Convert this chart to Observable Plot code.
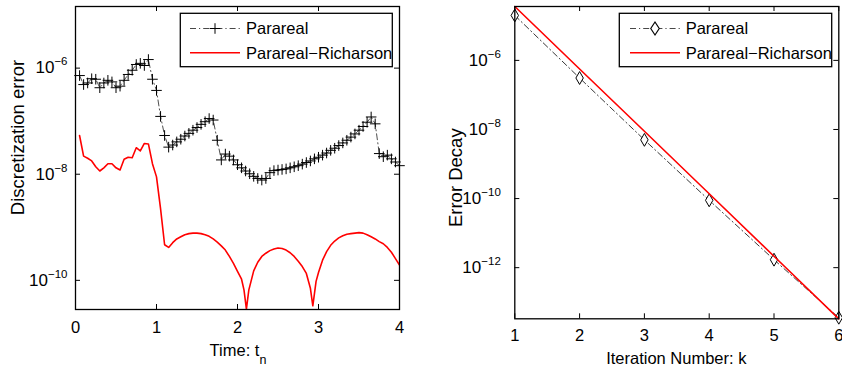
<!DOCTYPE html>
<html><head><meta charset="utf-8">
<script src="https://cdn.jsdelivr.net/npm/d3@7"></script>
<script src="https://cdn.jsdelivr.net/npm/@observablehq/plot@0.6"></script>
<style>
html,body{margin:0;padding:0;background:#fff;}
#wrap{position:relative;width:842px;height:372px;overflow:hidden;background:#fff;}
#left,#right{position:absolute;top:0;}
#left{left:0;} #right{left:420px;}
svg text{font-family:"Liberation Sans",Arial,Helvetica,sans-serif;}
</style></head><body>
<div id="wrap"><div id="left"></div><div id="right"></div></div>
<script>
// ---------- Left panel data: discretization error vs time ----------
const parT = [0.05,0.10,0.15,0.20,0.25,0.30,0.35,0.40,0.45,0.50,0.55,0.60,0.65,0.70,0.75,0.80,0.85,0.90,0.95,1.00,
  1.05,1.10,1.15,1.20,1.25,1.30,1.35,1.40,1.45,1.50,1.55,1.60,1.65,1.70,1.75,1.80,1.85,1.90,1.95,2.00,
  2.05,2.10,2.15,2.20,2.25,2.30,2.35,2.40,2.45,2.50,2.55,2.60,2.65,2.70,2.75,2.80,2.85,2.90,2.95,3.00,
  3.05,3.10,3.15,3.20,3.25,3.30,3.35,3.40,3.45,3.50,3.55,3.60,3.65,3.70,3.75,3.80,3.85,3.90,3.95,4.00];
const parErr = [7.24e-7,4.90e-7,5.25e-7,6.31e-7,6.17e-7,4.27e-7,5.25e-7,5.89e-7,5.50e-7,4.27e-7,
  4.57e-7,5.89e-7,7.59e-7,9.12e-7,1.17e-6,1.23e-6,1.12e-6,1.45e-6,6.17e-7,3.80e-7,
  1.23e-7,5.37e-8,3.24e-8,3.55e-8,4.07e-8,4.57e-8,5.25e-8,5.89e-8,6.76e-8,7.59e-8,
  8.71e-8,9.77e-8,1.12e-7,1.05e-7,4.37e-8,1.86e-8,2.40e-8,2.19e-8,1.86e-8,1.51e-8,
  1.32e-8,1.15e-8,1.02e-8,9.12e-9,8.32e-9,7.76e-9,8.32e-9,1.07e-8,1.17e-8,1.20e-8,
  1.23e-8,1.26e-8,1.32e-8,1.38e-8,1.45e-8,1.55e-8,1.66e-8,1.78e-8,1.95e-8,2.09e-8,
  2.29e-8,2.51e-8,2.82e-8,3.09e-8,3.47e-8,3.89e-8,4.37e-8,5.01e-8,5.75e-8,6.76e-8,
  7.94e-8,9.55e-8,1.20e-7,8.91e-8,2.45e-8,2.14e-8,2.29e-8,1.95e-8,1.70e-8,1.45e-8];
const richT = [0.05,0.10,0.15,0.20,0.25,0.30,0.35,0.40,0.45,0.50,0.55,0.60,0.65,0.70,0.75,0.80,0.85,0.90,0.95,
  1.00,1.05,1.10,1.15,1.20,1.25,1.30,1.35,1.40,1.45,1.50,1.55,1.60,1.65,1.70,1.75,1.80,1.85,1.90,1.95,2.00,2.05,
  2.08,2.11,2.14,
  2.20,2.25,2.30,2.35,2.40,2.45,2.50,2.55,2.60,2.65,2.70,2.75,2.80,2.85,2.90,
  2.93,2.97,
  3.00,3.05,3.10,3.15,3.20,3.25,3.30,3.35,3.40,3.45,3.50,3.55,3.60,3.65,3.70,3.75,3.80,3.85,3.90,3.95,4.00];
const richErr = [5.37e-8,2.19e-8,2.00e-8,1.78e-8,1.38e-8,1.15e-8,1.32e-8,1.58e-8,1.58e-8,1.32e-8,
  1.20e-8,1.91e-8,2.09e-8,2.04e-8,3.16e-8,2.75e-8,3.80e-8,3.72e-8,1.58e-8,
  8.91e-9,2.24e-9,4.68e-10,4.17e-10,5.13e-10,6.03e-10,6.61e-10,7.24e-10,7.59e-10,7.76e-10,7.76e-10,
  7.59e-10,7.24e-10,6.76e-10,6.03e-10,5.25e-10,4.47e-10,3.72e-10,2.82e-10,2.09e-10,1.48e-10,1.05e-10,
  6.61e-11,2.88e-11,6.61e-11,
  1.51e-10,2.19e-10,2.82e-10,3.24e-10,3.63e-10,3.89e-10,4.07e-10,3.98e-10,3.72e-10,3.31e-10,2.82e-10,
  2.29e-10,1.82e-10,1.35e-10,7.08e-11,
  3.31e-11,9.55e-11,
  1.41e-10,2.40e-10,3.47e-10,4.57e-10,5.50e-10,6.31e-10,6.92e-10,7.41e-10,7.59e-10,7.76e-10,7.94e-10,
  7.76e-10,7.24e-10,6.61e-10,6.03e-10,5.37e-10,4.90e-10,4.17e-10,3.39e-10,2.57e-10,1.95e-10];
const leftXTicks = [0, 1, 2, 3, 4];
const leftYTicks = [1e-6, 1e-8, 1e-10];

// ---------- Right panel data: error decay vs iteration ----------
const iterK = [1, 2, 3, 4, 5, 6];
const parDecay = [2.00e-5, 3.09e-7, 5.01e-9, 8.91e-11, 1.70e-12, 3.55e-14];
const richDecay = [3.63e-5, 5.62e-7, 8.91e-9, 1.38e-10, 2.14e-12, 3.31e-14];
const rightXTicks = [1, 2, 3, 4, 5, 6];
const rightYTicks = [1e-6, 1e-8, 1e-10, 1e-12];

const legendLabels = ["Parareal", "Parareal\u2212Richarson"];

const FONT = '"Liberation Sans", Arial, Helvetica, sans-serif';
const RED = "#ff0000";
const DASHDOT = "6,3,1.2,3";

function boxTicks(xt, yt, pw, ph, len = 5) {
  return [
    Plot.ruleX(xt, {x: d => d, insetTop: ph - len, stroke: "black", strokeWidth: 1}),
    Plot.ruleX(xt, {x: d => d, insetBottom: ph - len, stroke: "black", strokeWidth: 1}),
    Plot.ruleY(yt, {y: d => d, insetRight: pw - len, stroke: "black", strokeWidth: 1}),
    Plot.ruleY(yt, {y: d => d, insetLeft: pw - len, stroke: "black", strokeWidth: 1})
  ];
}

function supLabels(svg) {
  d3.select(svg).selectAll('g[aria-label="y-axis tick label"] text').each(function () {
    const exp = this.textContent;
    const t = d3.select(this);
    t.text(null);
    t.append("tspan").attr("font-size", 17).text("10");
    t.append("tspan").attr("font-size", 11.5).attr("dy", -8).text(exp);
  });
}

function addLegend(svg, x, y, w, h, lineX0, lineX1, textX, markerKind) {
  const g = d3.select(svg).append("g").attr("font-family", FONT).attr("font-size", 16.5)
    .attr("text-anchor", "start");
  g.append("rect").attr("x", x).attr("y", y).attr("width", w).attr("height", h)
    .attr("fill", "white").attr("stroke", "black").attr("stroke-width", 1.3);
  const r1 = y + 15.2, r2 = y + 39.5;
  g.append("line").attr("x1", lineX0).attr("x2", lineX1).attr("y1", r1).attr("y2", r1)
    .attr("stroke", "#333").attr("stroke-width", 0.9).attr("stroke-dasharray", DASHDOT);
  const mx = (lineX0 + lineX1) / 2;
  if (markerKind === "plus") {
    g.append("path").attr("d", d3.symbol(d3.symbolPlus, Math.PI * 3.5 * 3.5)())
      .attr("transform", `translate(${mx},${r1})`).attr("fill", "none").attr("stroke", "black").attr("stroke-width", 1);
  } else {
    g.append("path").attr("d", d3.symbol(d3.symbolDiamond, Math.PI * 3.9 * 3.9)())
      .attr("transform", `translate(${mx},${r1}) scale(1.15,1)`).attr("fill", "white").attr("stroke", "black").attr("stroke-width", 1);
  }
  g.append("text").attr("text-anchor", "start").attr("x", textX).attr("y", r1).attr("dy", "0.36em").text(legendLabels[0]);
  g.append("line").attr("x1", lineX0).attr("x2", lineX1).attr("y1", r2).attr("y2", r2)
    .attr("stroke", RED).attr("stroke-width", 1.6);
  g.append("text").attr("text-anchor", "start").attr("x", textX).attr("y", r2).attr("dy", "0.36em").text(legendLabels[1]);
}

// ---------- Left chart ----------
{
  const W = 420, H = 372, ml = 75, mr = 21, mt = 6, mb = 63;
  const pw = W - ml - mr, ph = H - mt - mb;
  const parData = parT.map((t, i) => ({t, v: parErr[i]}));
  const richData = richT.map((t, i) => ({t, v: richErr[i]}));
  const chart = Plot.plot({
    width: W, height: H, marginLeft: ml, marginRight: mr, marginTop: mt, marginBottom: mb,
    style: {fontFamily: FONT, fontSize: "16.5px", color: "black", background: "white", overflow: "visible"},
    x: {domain: [0, 4]},
    y: {type: "log", domain: [2.82e-11, 1.45e-5]},
    marks: [
      Plot.line(parData, {x: "t", y: "v", stroke: "#222", strokeWidth: 0.8, strokeDasharray: DASHDOT}),
      Plot.dot(parData, {x: "t", y: "v", symbol: "plus", r: 3.5, stroke: "black", strokeWidth: 1}),
      Plot.line(richData, {x: "t", y: "v", stroke: RED, strokeWidth: 1.6, clip: true}),
      ...boxTicks(leftXTicks, leftYTicks, pw, ph),
      Plot.frame({stroke: "black", strokeWidth: 1.3}),
      Plot.axisX({ticks: leftXTicks, tickSize: 0, tickPadding: 12, label: null, tickFormat: d => String(d)}),
      Plot.axisY({ticks: leftYTicks, tickSize: 0, tickPadding: 8, label: null,
        tickFormat: d => "\u2212" + Math.round(-Math.log10(d))})
    ]
  });
  supLabels(chart);
  const s = d3.select(chart);
  s.append("text").attr("transform", "translate(23.5,137.5) rotate(-90)").attr("text-anchor", "middle")
    .attr("font-size", 18.5).attr("font-family", FONT).text("Discretization error");
  const xl = s.append("text").attr("x", 238).attr("y", 356).attr("text-anchor", "middle")
    .attr("font-size", 16.5).attr("font-family", FONT);
  xl.append("tspan").text("Time: t");
  xl.append("tspan").attr("font-size", 12.5).attr("dy", 8).text("n");
  addLegend(chart, 180.3, 13.3, 212, 53.4, 190, 240, 246, "plus");
  document.getElementById("left").appendChild(chart);
}

// ---------- Right chart ----------
{
  const W = 422, H = 372, ml = 94.3, mr = 3.7, mt = 6, mb = 53.7;
  const pw = W - ml - mr, ph = H - mt - mb;
  const parData = iterK.map((k, i) => ({k, v: parDecay[i]}));
  const richData = iterK.map((k, i) => ({k, v: richDecay[i]}));
  const chart = Plot.plot({
    width: W, height: H, marginLeft: ml, marginRight: mr, marginTop: mt, marginBottom: mb,
    style: {fontFamily: FONT, fontSize: "16.5px", color: "black", background: "white", overflow: "visible"},
    x: {domain: [1, 6]},
    y: {type: "log", domain: [3.31e-14, 3.63e-5]},
    marks: [
      Plot.line(parData, {x: "k", y: "v", stroke: "#222", strokeWidth: 0.9, strokeDasharray: DASHDOT}),
      Plot.dot(parData, {x: "k", y: "v", symbol: "diamond", r: 3.9, fill: "white", stroke: "black", strokeWidth: 1}),
      Plot.line(richData, {x: "k", y: "v", stroke: RED, strokeWidth: 1.6}),
      ...boxTicks(rightXTicks, rightYTicks, pw, ph),
      Plot.frame({stroke: "black", strokeWidth: 1.3}),
      Plot.axisX({ticks: rightXTicks, tickSize: 0, tickPadding: 10, label: null, tickFormat: d => String(d)}),
      Plot.axisY({ticks: rightYTicks, tickSize: 0, tickPadding: 14, label: null,
        tickFormat: d => "\u2212" + Math.round(-Math.log10(d))})
    ]
  });
  supLabels(chart);
  const s = d3.select(chart);
  s.append("text").attr("transform", "translate(41.7,177.7) rotate(-90)").attr("text-anchor", "middle")
    .attr("font-size", 18.5).attr("font-family", FONT).text("Error Decay");
  s.append("text").attr("x", 256.3).attr("y", 364).attr("text-anchor", "middle")
    .attr("font-size", 16.5).attr("font-family", FONT).text("Iteration Number: k");
  addLegend(chart, 199.3, 13.3, 212.4, 53.4, 210, 260, 265.7, "diamond");
  document.getElementById("right").appendChild(chart);
}
</script></body></html>
